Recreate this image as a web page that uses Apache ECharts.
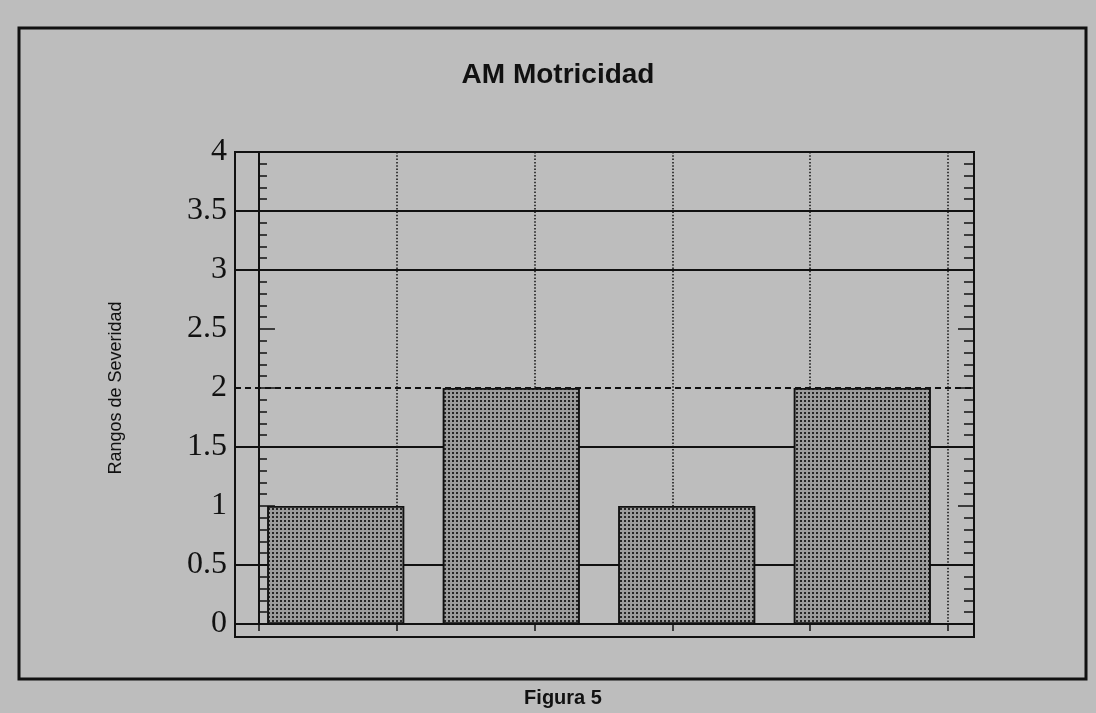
<!DOCTYPE html>
<html>
<head>
<meta charset="utf-8">
<script src="https://cdn.jsdelivr.net/npm/echarts@6/dist/echarts.min.js"></script>
<style>
  html, body { margin: 0; padding: 0; background: #bdbdbd; }
  #chart { width: 1096px; height: 713px; }
</style>
</head>
<body>
<div id="chart"></div>
<script>
// ---- data ----
const titleText = 'AM Motricidad';
const captionText = 'Figura 5';
const yAxisName = 'Rangos de Severidad';
const categories = ['1', '2', '3', '4'];
const values = [1, 2, 1, 2];
const yMin = 0;
const yMax = 4;
const yStep = 0.5;
const solidLevels = [0.5, 1.5, 3, 3.5, 4];
const dashedLevels = [2];

// ---- chart ----
const chart = echarts.init(document.getElementById('chart'), null, { renderer: 'canvas' });
const ink = '#111';

const levelLines = solidLevels.map(v => ({ yAxis: v, lineStyle: { type: 'solid' } }))
  .concat(dashedLevels.map(v => ({ yAxis: v, lineStyle: { type: [6, 4] } })));

const option = {
  backgroundColor: '#bdbdbd',
  animation: false,
  title: [
    {
      text: titleText, left: 553, top: 56, textAlign: 'center',
      textStyle: { fontFamily: 'Liberation Sans', fontWeight: 'bold', fontSize: 28, color: ink }
    },
    {
      text: captionText, left: 558, top: 683, textAlign: 'center',
      textStyle: { fontFamily: 'Liberation Sans', fontWeight: 'bold', fontSize: 20, color: ink }
    }
  ],
  grid: [
    { left: 235, top: 152, width: 739, height: 472, show: false },
    { left: 235, top: 152, width: 739, height: 485, show: true, borderColor: ink, borderWidth: 2, backgroundColor: 'transparent' },
    { left: 248, top: 152, width: 702, height: 472, show: false },
    { left: 19, top: 28, width: 1067, height: 651, show: true, borderColor: ink, borderWidth: 3, backgroundColor: 'transparent' }
  ],
  xAxis: [
    {
      gridIndex: 0, type: 'value', min: -0.174, max: 5.189,
      axisLine: { show: true, onZero: false, lineStyle: { color: ink, width: 2 } },
      axisTick: { show: true, length: 7, inside: false, lineStyle: { color: ink, width: 1.5 } },
      axisLabel: { show: false },
      splitLine: { show: true, showMinLine: false, showMaxLine: false, lineStyle: { color: ink, width: 1.5, type: [1.5, 1.8] } }
    },
    {
      gridIndex: 2, type: 'category', data: categories,
      axisLine: { show: false }, axisTick: { show: false }, axisLabel: { show: false }, splitLine: { show: false }
    }
  ],
  yAxis: [
    {
      gridIndex: 0, type: 'value', position: 'left', min: yMin, max: yMax, interval: yStep,
      name: yAxisName, nameLocation: 'middle', nameRotate: 90, nameGap: 110,
      nameTextStyle: { fontFamily: 'Liberation Sans', fontSize: 18, color: ink },
      axisLine: { show: true, lineStyle: { color: ink, width: 2 } },
      axisTick: { show: true, inside: true, length: 16, lineStyle: { color: ink, width: 1.5 } },
      minorTick: { show: true, splitNumber: 5, length: 8, lineStyle: { color: ink, width: 1.5 } },
      axisLabel: { show: true, margin: 8, fontFamily: 'Liberation Serif', fontSize: 32, color: ink },
      splitLine: { show: false }
    },
    {
      gridIndex: 0, type: 'value', position: 'right', min: yMin, max: yMax, interval: yStep,
      axisLine: { show: true, lineStyle: { color: ink, width: 2 } },
      axisTick: { show: true, inside: true, length: 16, lineStyle: { color: ink, width: 1.5 } },
      minorTick: { show: true, splitNumber: 5, length: 10, lineStyle: { color: ink, width: 1.5 } },
      axisLabel: { show: false },
      splitLine: { show: false }
    },
    {
      gridIndex: 2, type: 'value', min: yMin, max: yMax, interval: yStep, show: false
    }
  ],
  series: [
    {
      type: 'line', xAxisIndex: 0, yAxisIndex: 0, data: [], silent: true, z: 1,
      markLine: {
        silent: true, symbol: 'none', z: 1, animation: false,
        label: { show: false },
        lineStyle: { color: ink, width: 1.8 },
        data: levelLines
      }
    },
    {
      type: 'bar', xAxisIndex: 1, yAxisIndex: 2, data: values, z: 3,
      barWidth: '78%',
      itemStyle: {
        color: '#9c9c9c', borderColor: ink, borderWidth: 1.5,
        decal: { symbol: 'rect', symbolSize: 1, dashArrayX: [2, 2], dashArrayY: [2, 2], color: '#262626', rotation: 0 }
      }
    }
  ]
};
chart.setOption(option);
</script>
</body>
</html>
